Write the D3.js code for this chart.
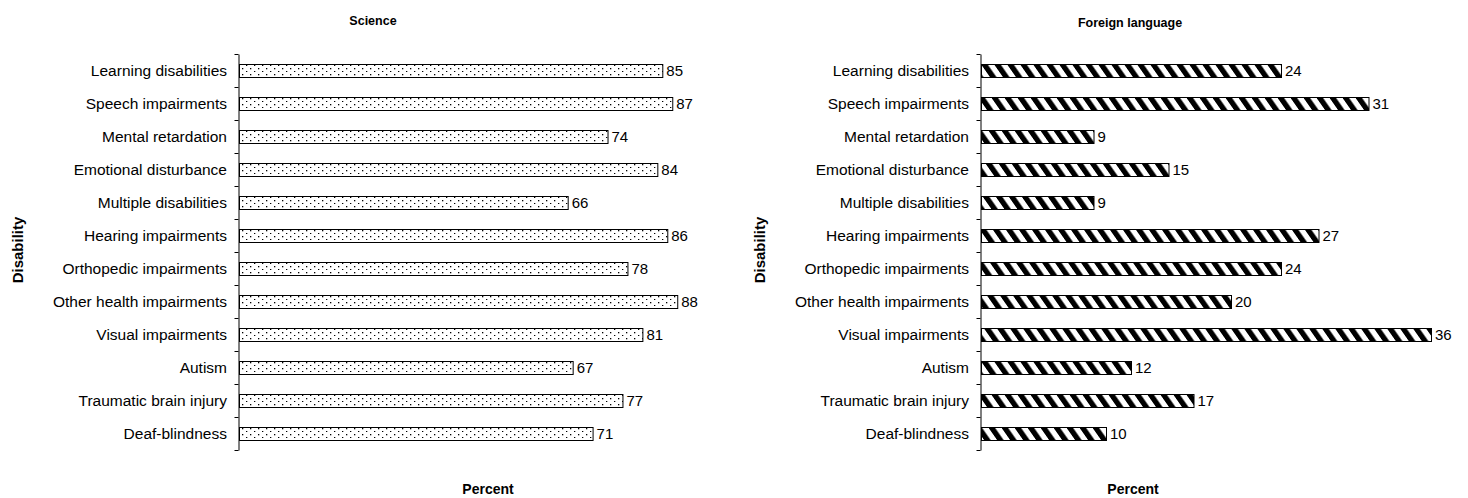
<!DOCTYPE html>
<html>
<head>
<meta charset="utf-8">
<script src="https://cdn.jsdelivr.net/npm/d3@7"></script>
<style>
  body { margin: 0; background: #fff; }
  text { font-family: "Liberation Sans", Arial, sans-serif; fill: #000; }
</style>
</head>
<body>
<div class="content"></div>
<script>
// categories, top to bottom
var categories = ["Learning disabilities", "Speech impairments", "Mental retardation",
    "Emotional disturbance", "Multiple disabilities", "Hearing impairments",
    "Orthopedic impairments", "Other health impairments", "Visual impairments",
    "Autism", "Traumatic brain injury", "Deaf-blindness"];

var scienceValues = [85, 87, 74, 84, 66, 86, 78, 88, 81, 67, 77, 71];
var foreignValues = [24, 31, 9, 15, 9, 27, 24, 20, 36, 12, 17, 10];

var panelTitles = ["Science", "Foreign language"];
var xLabel = "Percent";
var yLabel = "Disability";

var width = 1468, height = 498;

var svg = d3.select(".content")
    .append("svg")
    .attr("width", width)
    .attr("height", height);

// patterns
var defs = svg.append("defs");

var dots = defs.append("pattern")
    .attr("id", "dots")
    .attr("patternUnits", "userSpaceOnUse")
    .attr("width", 8)
    .attr("height", 6);
dots.append("rect").attr("width", 8).attr("height", 6).attr("fill", "#fff");
dots.append("rect").attr("x", 2).attr("y", 2).attr("width", 1.3).attr("height", 1.3).attr("fill", "#000");
dots.append("rect").attr("x", 6).attr("y", 5).attr("width", 1.3).attr("height", 1.3).attr("fill", "#000");

var stripes = defs.append("pattern")
    .attr("id", "stripes")
    .attr("patternUnits", "userSpaceOnUse")
    .attr("width", 13)
    .attr("height", 13)
    .attr("patternTransform", "skewX(35)");
stripes.append("rect").attr("width", 13).attr("height", 13).attr("fill", "#fff");
stripes.append("rect").attr("width", 6.5).attr("height", 13).attr("fill", "#000");

// shared y band scale
var y = d3.scaleBand()
    .domain(categories)
    .range([54, 450])
    .paddingInner(0.6)
    .paddingOuter(0.3);

// tick positions are at the category boundaries
var yBounds = d3.scaleLinear()
    .domain([0, categories.length])
    .range([54, 450]);

function panel(values, title, opts) {
    var x = d3.scaleLinear()
        .domain([0, opts.max])
        .range([opts.left, opts.left + opts.plotWidth]);

    var g = svg.append("g");

    // bars
    g.selectAll("rect.bar")
        .data(values)
        .enter()
        .append("rect")
        .attr("class", "bar")
        .attr("x", x(0) + 0.5)
        .attr("y", function(d, i) { return Math.round(y(categories[i])) + 0.5; })
        .attr("width", function(d) { return x(d) - x(0); })
        .attr("height", Math.round(y.bandwidth()))
        .attr("fill", "url(#" + opts.pattern + ")")
        .attr("stroke", "#000")
        .attr("stroke-width", 1);

    // value labels
    g.selectAll("text.val")
        .data(values)
        .enter()
        .append("text")
        .attr("class", "val")
        .attr("x", function(d) { return x(d) + 4; })
        .attr("y", function(d, i) { return y(categories[i]) + y.bandwidth() / 2; })
        .attr("dy", "0.36em")
        .style("font-size", "15px")
        .text(function(d) { return d; });

    // y axis
    g.append("g")
        .attr("transform", "translate(" + (x(0) - 0.5) + ",0)")
        .call(d3.axisLeft(yBounds)
            .tickValues(d3.range(categories.length + 1))
            .tickSize(4)
            .tickSizeOuter(0)
            .tickFormat(""))
        .call(function(a) { a.selectAll("path, line").attr("stroke", "#000"); });

    // category labels
    g.selectAll("text.cat")
        .data(categories)
        .enter()
        .append("text")
        .attr("class", "cat")
        .attr("x", x(0) - 12)
        .attr("y", function(d) { return y(d) + y.bandwidth() / 2; })
        .attr("dy", "0.36em")
        .attr("text-anchor", "end")
        .style("font-size", "15.5px")
        .text(function(d) { return d; });

    // title
    svg.append("text")
        .attr("x", opts.titleX)
        .attr("y", opts.titleY)
        .attr("text-anchor", "middle")
        .style("font-size", "12.5px")
        .style("font-weight", "bold")
        .text(title);

    // x label
    svg.append("text")
        .attr("x", opts.xLabelX)
        .attr("y", 494)
        .attr("text-anchor", "middle")
        .style("font-size", "14px")
        .style("font-weight", "bold")
        .text(xLabel);

    // y label
    svg.append("text")
        .attr("transform", "translate(" + opts.yLabelX + ",250) rotate(-90)")
        .attr("text-anchor", "middle")
        .style("font-size", "15px")
        .style("font-weight", "bold")
        .text(yLabel);
}

panel(scienceValues, panelTitles[0], {
    max: 100, left: 239, plotWidth: 498, pattern: "dots",
    titleX: 373, titleY: 25, xLabelX: 488, yLabelX: 23
});

panel(foreignValues, panelTitles[1], {
    max: 40, left: 981, plotWidth: 500, pattern: "stripes",
    titleX: 1130, titleY: 27, xLabelX: 1133, yLabelX: 765
});
</script>
</body>
</html>
